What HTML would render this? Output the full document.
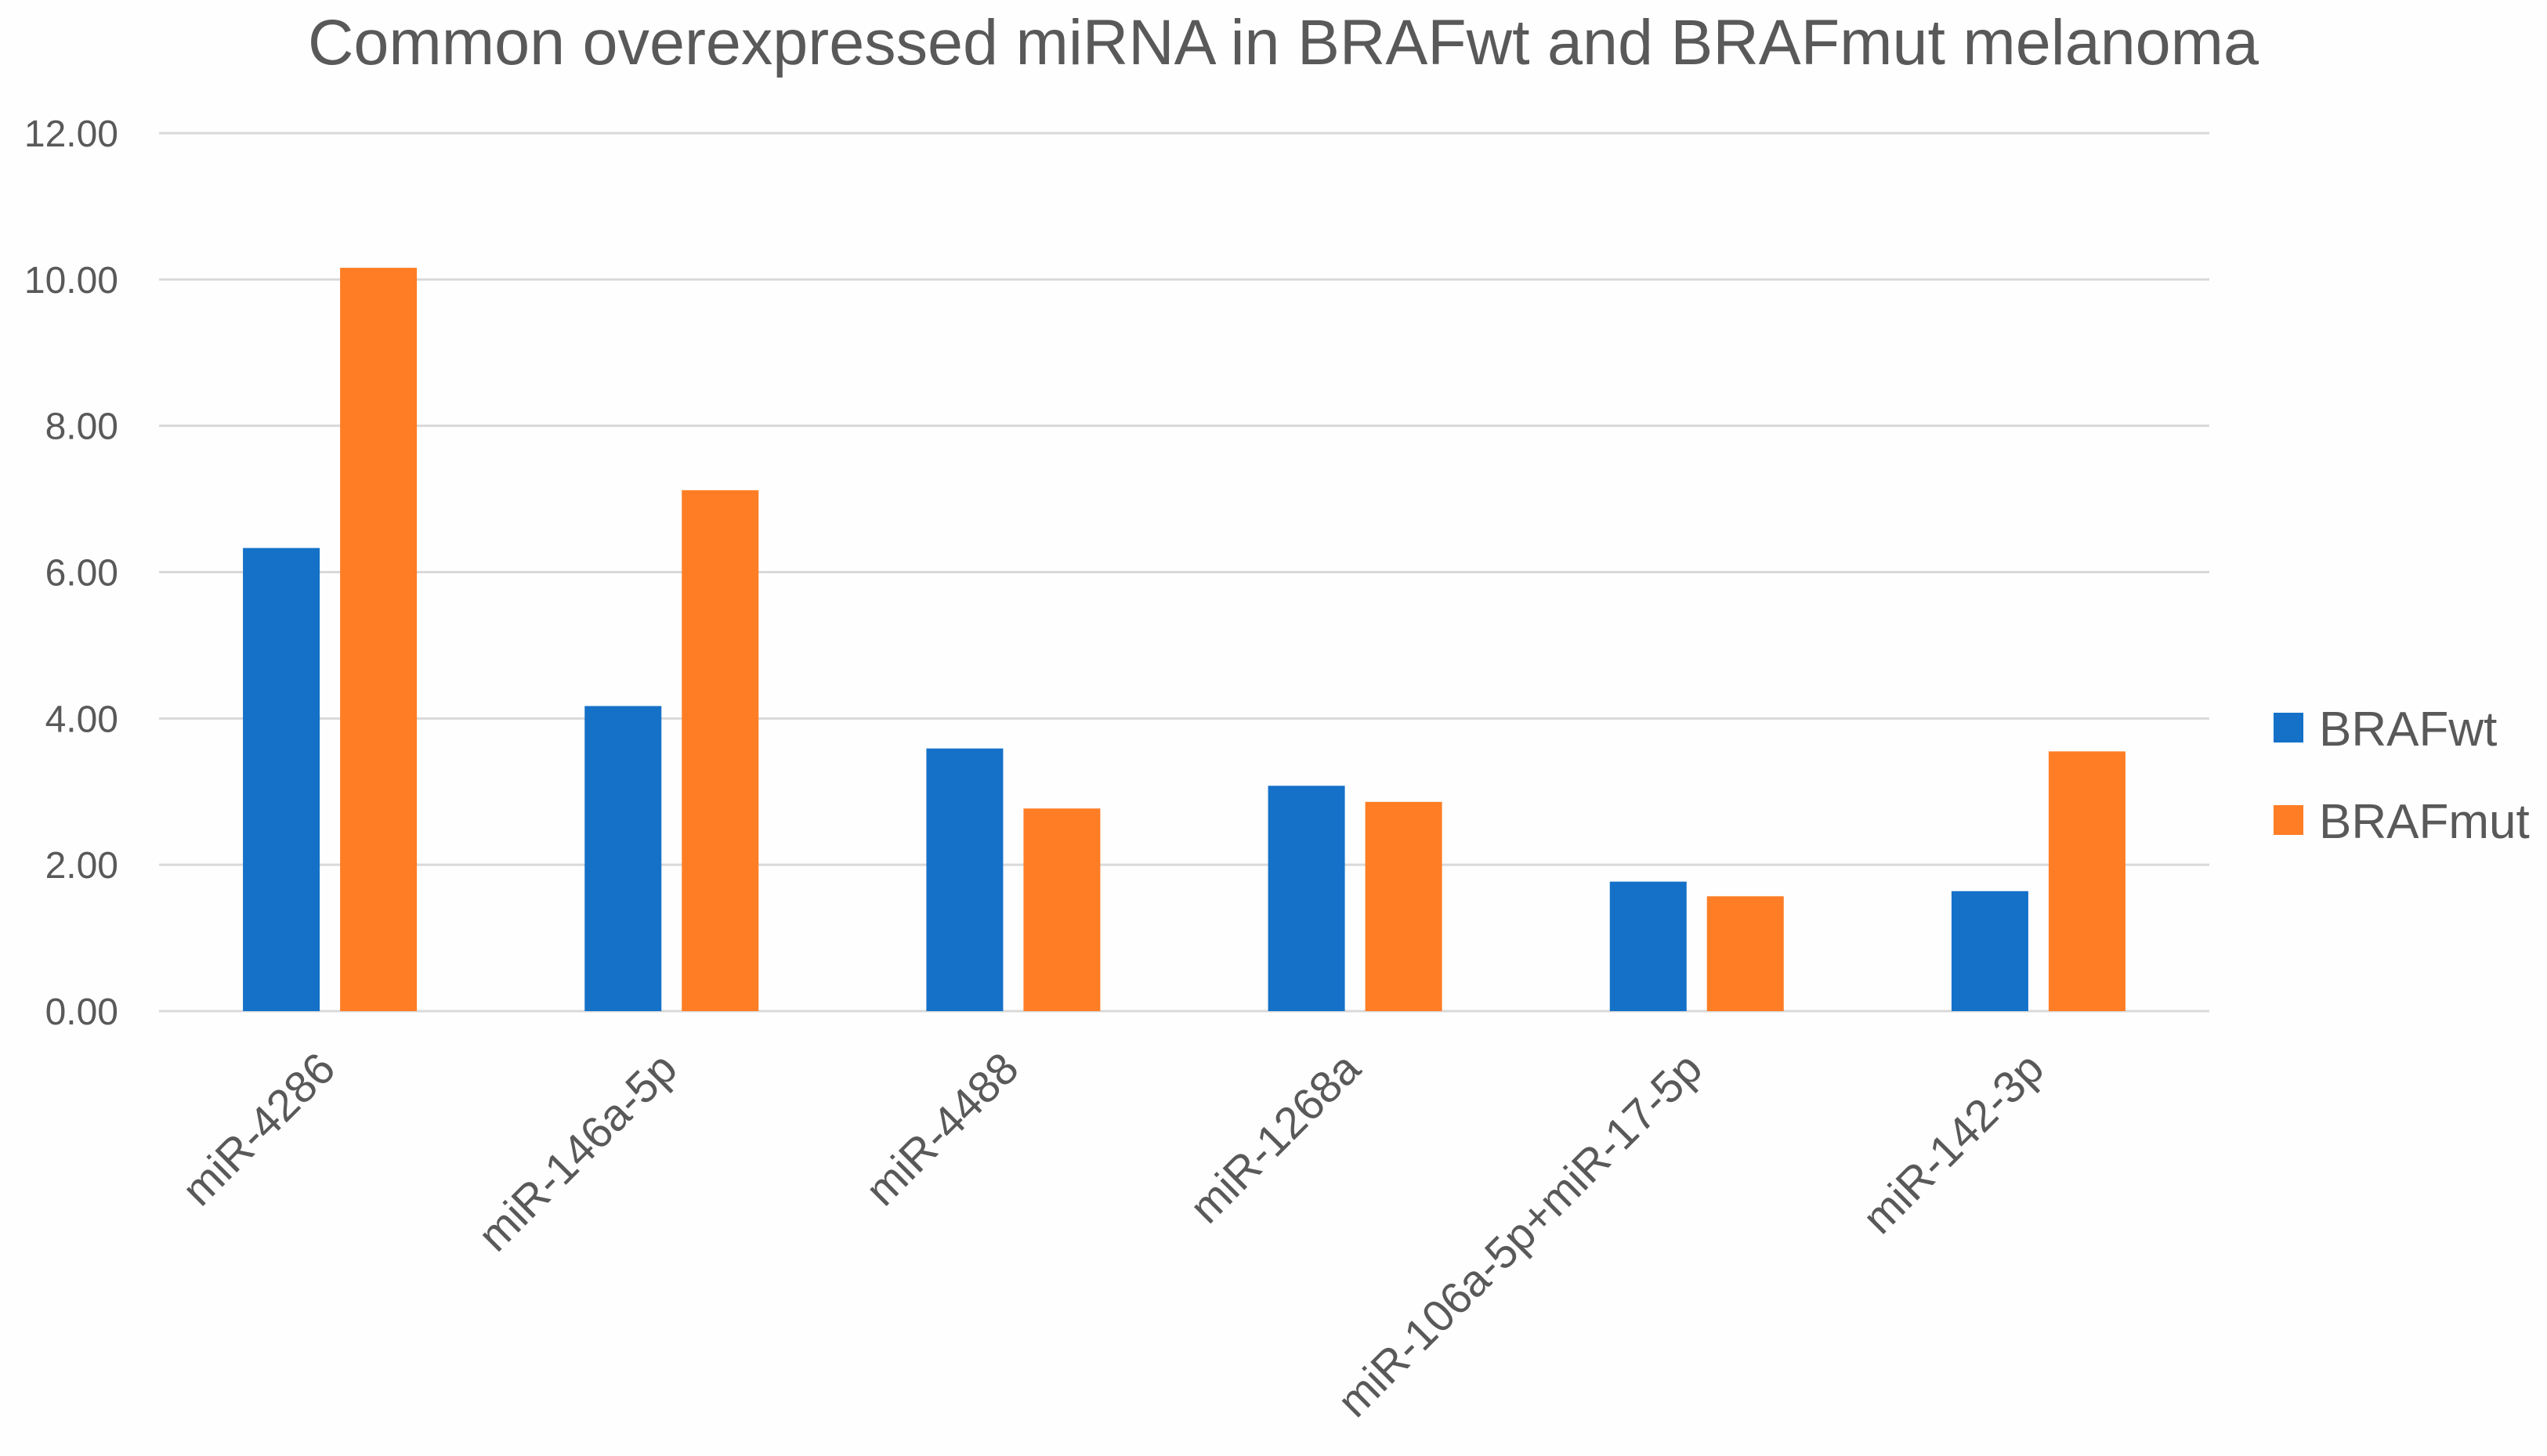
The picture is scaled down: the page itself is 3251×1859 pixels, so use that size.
<!DOCTYPE html>
<html><head><meta charset="utf-8"><style>
html,body{margin:0;padding:0;background:#fff;}
svg{display:block;font-family:"Liberation Sans",sans-serif;}
</style></head><body>
<svg id="chart" width="3251" height="1859" viewBox="0 0 3251 1859">
<rect width="3251" height="1859" fill="#fefefe"/>
<text x="1638" y="82" text-anchor="middle" font-size="82" fill="#595959" textLength="2490" lengthAdjust="spacingAndGlyphs">Common overexpressed miRNA in BRAFwt and BRAFmut melanoma</text>
<g id="grid"></g><g id="bars"></g><g id="xlabels"></g>
<g>
<rect x="2902" y="910" width="38" height="38" fill="#1571c8"/>
<text x="2960" y="952" font-size="62" fill="#595959">BRAFwt</text>
<rect x="2902" y="1028" width="38" height="38" fill="#fe7d25"/>
<text x="2960" y="1070" font-size="62" fill="#595959">BRAFmut</text>
</g>
</svg>
<script>
const categories = ["miR-4286","miR-146a-5p","miR-4488","miR-1268a","miR-106a-5p+miR-17-5p","miR-142-3p"];
const brafwt = [6.33,4.17,3.59,3.08,1.77,1.64];
const brafmut = [10.16,7.12,2.77,2.86,1.57,3.55];
const yTicks = [0,2,4,6,8,10,12];
const yTickLabels = ["0.00","2.00","4.00","6.00","8.00","10.00","12.00"];

const NS="http://www.w3.org/2000/svg";
const L=203,R=2820,T=170,B=1291,YMAX=12;
const y=v=>B-(v/YMAX)*(B-T);
const band=(R-L)/categories.length;
const xc=i=>L+band*(i+0.5);
const BW=98,GAP=26;
function mk(tag,attrs,parent){const e=document.createElementNS(NS,tag);for(const k in attrs)e.setAttribute(k,attrs[k]);parent.appendChild(e);return e;}
const grid=document.getElementById('grid');
yTicks.forEach((t,i)=>{
  const ln=mk('line',{x1:L,x2:R,y1:y(t),y2:y(t),stroke:'#d9d9d9','stroke-width':3},grid);
  
  
  const tx=mk('text',{x:151,y:y(t)+17,'text-anchor':'end','font-size':48,fill:'#595959'},grid);
  tx.textContent=yTickLabels[i];
  
  
});
const bars=document.getElementById('bars');
const xl=document.getElementById('xlabels');
categories.forEach((c,i)=>{
  const cx=xc(i);
  const b1=mk('rect',{x:cx-GAP/2-BW,y:y(brafwt[i]),width:BW,height:B-y(brafwt[i]),fill:'#1571c8'},bars);
  
  
  const b2=mk('rect',{x:cx+GAP/2,y:y(brafmut[i]),width:BW,height:B-y(brafmut[i]),fill:'#fe7d25'},bars);
  
  
  const ax=cx+10,ay=1368;
  const t=mk('text',{x:ax,y:ay,'text-anchor':'end','font-size':57,fill:'#595959',transform:`rotate(-45 ${ax} ${ay})`},xl);
  t.textContent=c;
  
  
});
</script>
</body></html>
